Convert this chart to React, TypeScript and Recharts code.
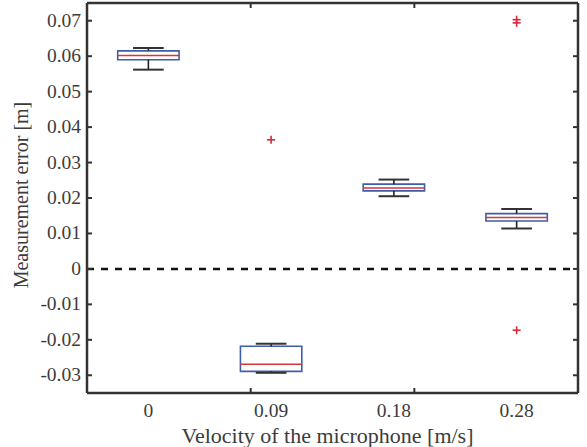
import React from 'react';
import { ComposedChart, XAxis, YAxis, ReferenceArea, ReferenceLine, Scatter } from 'recharts';

const categories = ['0', '0.09', '0.18', '0.28'];
const whiskerLow = [0.0562, -0.0293, 0.0205, 0.0114];
const q1 = [0.0590, -0.0289, 0.0220, 0.0135];
const median = [0.0602, -0.0269, 0.0228, 0.0145];
const q3 = [0.0615, -0.0218, 0.0239, 0.0156];
const whiskerHigh = [0.0623, -0.0211, 0.0252, 0.0169];
const outlierCategory = [2, 4, 4, 4];
const outlierValue = [0.0364, 0.0703, 0.0694, -0.0173];
const yTicks = [-0.03, -0.02, -0.01, 0, 0.01, 0.02, 0.03, 0.04, 0.05, 0.06, 0.07];
const xTicks = [1, 2, 3, 4];

const outlierData = outlierValue.map((v, i) => ({ x: outlierCategory[i], y: v }));

const FONT = "'Liberation Serif', 'Times New Roman', serif";
const TEXT = '#3c3c3c';
const FRAME = '#333333';
const BOX_HALF = 0.25;
const CAP_HALF = 0.125;

const Plus = (props: any) => {
  const { cx, cy } = props;
  if (cx == null || cy == null) return <g />;
  return (
    <g>
      <line x1={cx - 4} x2={cx + 4} y1={cy} y2={cy} stroke="#d42a3a" strokeWidth={1.6} />
      <line x1={cx} x2={cx} y1={cy - 4} y2={cy + 4} stroke="#d42a3a" strokeWidth={1.6} />
    </g>
  );
};

const Empty = () => <g />;

const XTick = (props: any) => {
  const { x, y, payload } = props;
  return (
    <text x={x} y={y + 14} textAnchor="middle" fontFamily={FONT} fontSize={19.5} fill={TEXT}>
      {categories[payload.value - 1]}
    </text>
  );
};

const YTick = (props: any) => {
  const { x, y, payload } = props;
  const v = payload.value as number;
  return (
    <text x={x} y={y + 6} textAnchor="end" fontFamily={FONT} fontSize={19.5} fill={TEXT}>
      {v === 0 ? '0' : v.toFixed(2)}
    </text>
  );
};

const YLabel = (props: any) => {
  const vb = props.viewBox || {};
  const x = 28;
  const y = (vb.y ?? 3) + (vb.height ?? 390) / 2 - 3;
  return (
    <text x={x} y={y} transform={`rotate(-90, ${x}, ${y})`} textAnchor="middle" fontFamily={FONT} fontSize={20} fill={TEXT}>
      Measurement error [m]
    </text>
  );
};

const XLabel = (props: any) => {
  const vb = props.viewBox || {};
  const x = (vb.x ?? 87) + (vb.width ?? 491) / 2 - 5;
  const y = 443;
  return (
    <text x={x} y={y} textAnchor="middle" fontFamily={FONT} fontSize={22} fill={TEXT}>
      Velocity of the microphone [m/s]
    </text>
  );
};

export default function App() {
  return (
    <div style={{ position: 'absolute', left: 0, top: 0, width: 587, height: 447, background: '#fff', fontFamily: FONT }}>
      <ComposedChart width={587} height={447} margin={{ top: 3, right: 9, bottom: 0, left: 0 }} data={outlierData} style={{ fontFamily: FONT }}>
        <XAxis
          xAxisId={0}
          dataKey="x"
          type="number"
          domain={[0.5, 4.5]}
          allowDataOverflow
          ticks={xTicks}
          tickLine={false}
          axisLine={false}
          tickSize={0}
          tickMargin={10}
          height={54}
          tick={<XTick />}
          label={<XLabel />}
        />
        <XAxis
          xAxisId="bIn"
          orientation="bottom"
          mirror
          type="number"
          domain={[0.5, 4.5]}
          allowDataOverflow
          ticks={xTicks}
          tick={Empty}
          tickSize={5}
          height={10}
          tickLine={{ stroke: FRAME, strokeWidth: 2 }}
          axisLine={{ stroke: FRAME, strokeWidth: 2.5 }}
        />
        <XAxis
          xAxisId="tIn"
          orientation="top"
          mirror
          type="number"
          domain={[0.5, 4.5]}
          allowDataOverflow
          ticks={xTicks}
          tick={Empty}
          tickSize={5}
          height={10}
          tickLine={{ stroke: FRAME, strokeWidth: 2 }}
          axisLine={{ stroke: FRAME, strokeWidth: 2.5 }}
        />
        <YAxis
          yAxisId={0}
          dataKey="y"
          type="number"
          domain={[-0.035, 0.075]}
          allowDataOverflow
          ticks={yTicks}
          tickLine={false}
          axisLine={false}
          tickSize={0}
          tickMargin={6}
          width={87}
          tick={<YTick />}
          label={<YLabel />}
        />
        <YAxis
          yAxisId="lIn"
          orientation="left"
          mirror
          type="number"
          domain={[-0.035, 0.075]}
          allowDataOverflow
          ticks={yTicks}
          tick={Empty}
          tickSize={5}
          width={10}
          tickLine={{ stroke: FRAME, strokeWidth: 2 }}
          axisLine={{ stroke: FRAME, strokeWidth: 2.5 }}
        />
        <YAxis
          yAxisId="rIn"
          orientation="right"
          mirror
          type="number"
          domain={[-0.035, 0.075]}
          allowDataOverflow
          ticks={yTicks}
          tick={Empty}
          tickSize={5}
          width={10}
          tickLine={{ stroke: FRAME, strokeWidth: 2 }}
          axisLine={{ stroke: FRAME, strokeWidth: 2.5 }}
        />
        <ReferenceLine y={0} stroke="#111" strokeWidth={2.5} strokeDasharray="7 7" />
        {categories.map((c, i) => (
          <ReferenceLine key={`wu${c}`} segment={[{ x: i + 1, y: q3[i] }, { x: i + 1, y: whiskerHigh[i] }]} stroke="#222" strokeWidth={1.6} />
        ))}
        {categories.map((c, i) => (
          <ReferenceLine key={`wl${c}`} segment={[{ x: i + 1, y: q1[i] }, { x: i + 1, y: whiskerLow[i] }]} stroke="#222" strokeWidth={1.6} />
        ))}
        {categories.map((c, i) => (
          <ReferenceLine key={`cu${c}`} segment={[{ x: i + 1 - CAP_HALF, y: whiskerHigh[i] }, { x: i + 1 + CAP_HALF, y: whiskerHigh[i] }]} stroke="#333" strokeWidth={2} />
        ))}
        {categories.map((c, i) => (
          <ReferenceLine key={`cl${c}`} segment={[{ x: i + 1 - CAP_HALF, y: whiskerLow[i] }, { x: i + 1 + CAP_HALF, y: whiskerLow[i] }]} stroke="#333" strokeWidth={2} />
        ))}
        {categories.map((c, i) => (
          <ReferenceArea key={`b${c}`} x1={i + 1 - BOX_HALF} x2={i + 1 + BOX_HALF} y1={q1[i]} y2={q3[i]} fill="#ffffff" fillOpacity={1} stroke="#3d5fa8" strokeWidth={1.6} />
        ))}
        {categories.map((c, i) => (
          <ReferenceLine key={`m${c}`} segment={[{ x: i + 1 - BOX_HALF, y: median[i] }, { x: i + 1 + BOX_HALF, y: median[i] }]} stroke="#d4353f" strokeWidth={1.6} />
        ))}
        <Scatter data={outlierData} dataKey="y" shape={<Plus />} isAnimationActive={false} />
      </ComposedChart>
    </div>
  );
}
